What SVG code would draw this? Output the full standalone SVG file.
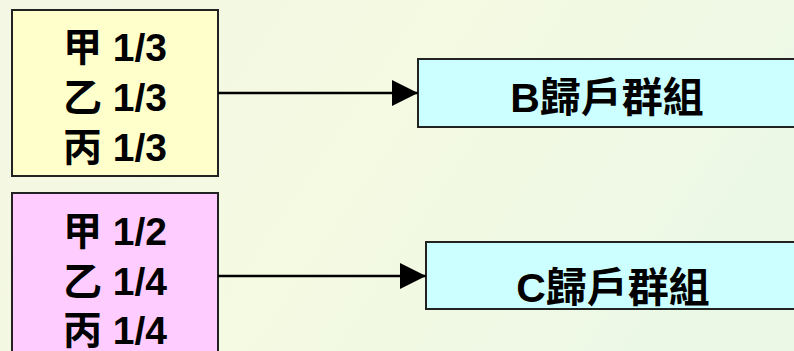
<svg xmlns="http://www.w3.org/2000/svg" width="794" height="351" viewBox="0 0 794 351">
<defs>
<linearGradient id="bg" x1="0" y1="0" x2="1" y2="0.3">
<stop offset="0" stop-color="#f3f7e4"/>
<stop offset="0.55" stop-color="#f5fae2"/>
<stop offset="1" stop-color="#ecf8e6"/>
</linearGradient>
<marker id="arr" markerWidth="26" markerHeight="26" refX="26" refY="13" orient="auto" markerUnits="userSpaceOnUse">
<path d="M0,0 L26,13 L0,26 Z" fill="#000"/>
</marker>
<style>
.box{stroke:#222;stroke-width:2}
.t{font-family:"Liberation Sans","Noto Sans CJK TC",sans-serif;font-weight:bold;fill:#000;text-anchor:middle}
.l{font-size:39px}
.r{font-size:41px}
.c{stroke:#000;stroke-width:2.5;fill:none}
</style>
</defs>
<rect width="794" height="351" fill="url(#bg)"/>
<g id="n_yellow">
<rect class="box" x="12" y="10" width="206" height="166" fill="#ffffcc"/>
<text class="t l" x="115" y="61">甲 1/3</text>
<text class="t l" x="115" y="111">乙 1/3</text>
<text class="t l" x="115" y="161">丙 1/3</text>
</g>
<g id="n_pink">
<rect class="box" x="12" y="193" width="206" height="170" fill="#ffccff"/>
<text class="t l" x="115" y="245">甲 1/2</text>
<text class="t l" x="115" y="295">乙 1/4</text>
<text class="t l" x="115" y="344">丙 1/4</text>
</g>
<g id="n_B">
<rect class="box" x="418" y="59" width="390" height="68" fill="#ccffff"/>
<text class="t r" x="607" y="112">B歸戶群組</text>
</g>
<g id="n_C">
<rect class="box" x="426" y="242" width="390" height="67" fill="#ccffff"/>
<text class="t r" x="613" y="302">C歸戶群組</text>
</g>
<g id="connectors">
<line class="c" x1="218" y1="93" x2="418" y2="93" marker-end="url(#arr)"/>
<line class="c" x1="218" y1="276" x2="426" y2="276" marker-end="url(#arr)"/>
</g>
</svg>
